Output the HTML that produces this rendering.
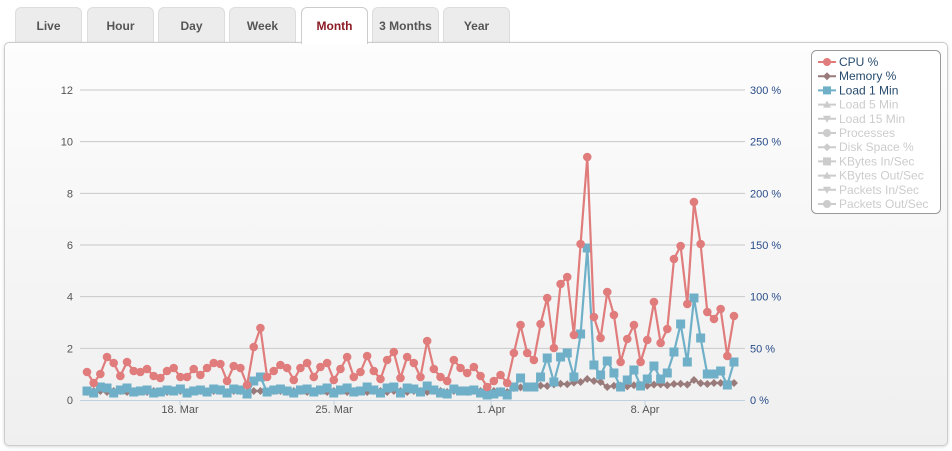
<!DOCTYPE html>
<html><head><meta charset="utf-8"><style>
html,body{margin:0;padding:0;background:#fff;width:952px;height:451px;overflow:hidden;font-family:"Liberation Sans",Arial,sans-serif}
.tab{position:absolute;top:7px;height:36px;width:67px;background:#ececec;border:1px solid #ddd;border-bottom:none;border-radius:6px 6px 0 0;font-size:12px;font-weight:bold;color:#555;text-align:center;line-height:36px;box-sizing:border-box}
.tab.on{background:#fff;color:#8b1c24;height:37px;z-index:3;border-color:#ccc}
#panel{position:absolute;left:4px;top:42px;width:944px;height:404px;border:1px solid #ccc;border-radius:5px;box-sizing:border-box;background:linear-gradient(#fdfdfd,#efefef);box-shadow:0 1px 3px rgba(0,0,0,.15)}
</style></head><body>
<div class="tab" style="left:15px">Live</div>
<div class="tab" style="left:87px">Hour</div>
<div class="tab" style="left:158px">Day</div>
<div class="tab" style="left:229px">Week</div>
<div class="tab on" style="left:301px">Month</div>
<div class="tab" style="left:372px">3 Months</div>
<div class="tab" style="left:443px">Year</div>
<div id="panel"></div>
<svg id="s" width="952" height="451" style="position:absolute;left:0;top:0;z-index:4" font-family="Liberation Sans,Arial,sans-serif"></svg>
<script>
var s=document.getElementById('s'),h='';
for(var i=0;i<=6;i++){var y=400-i*51.67;
 if(i>0)h+='<line x1="80" x2="745" y1="'+y+'" y2="'+y+'" stroke="#c8c8c8"/>';
 h+='<text x="73" y="'+(y+4)+'" font-size="11" fill="#555" text-anchor="end">'+(i*2)+'</text>';
 h+='<text x="750" y="'+(y+4)+'" font-size="11" fill="#2a4d8a">'+(i*50)+' %</text>';}
h+='<line x1="80" x2="745" y1="400.5" y2="400.5" stroke="#c0d0e0"/>';
[[180,'18. Mar'],[334,'25. Mar'],[491,'1. Apr'],[645,'8. Apr']].forEach(function(t){h+='<line x1="'+t[0]+'" x2="'+t[0]+'" y1="400" y2="405" stroke="#c0d0e0"/><text x="'+t[0]+'" y="413" font-size="11" fill="#555" text-anchor="middle">'+t[1]+'</text>';});
var cpu=[372,383,374,357,363,376,362,371,372,369,376,378,371,368,377,377,369,375,368,363,364,381,366,368,385,347,328,377,371,365,368,380,368,363,377,367,363,380,369,357,377,372,356,371,379,360,352,378,357,363,377,341,369,377,381,360,368,373,367,376,387,381,375,383,353,325,353,360,324,298,348,284,277,335,244,157,317,338,292,315,362,339,325,362,340,302,343,329,259,246,304,202,244,312,319,309,356,316];
var ld=[391,393,387,388,393,390,388,392,391,390,393,392,390,391,389,393,391,390,392,389,390,393,389,390,394,381,377,392,390,389,391,393,390,389,392,390,388,393,390,388,392,391,387,390,393,388,387,393,388,389,392,386,390,393,394,389,391,391,390,393,395,394,392,395,387,378,387,387,377,358,382,357,353,377,334,248,365,375,361,373,387,380,370,386,379,366,379,373,352,324,362,298,338,374,374,371,385,362];
var mem=[];for(i=0;i<cpu.length;i++){var b=i<64?391:(i<75?388-(i-64)*0.6:(i<78?382:386-Math.min(3,(i-78)*0.2)));mem.push(b+(i%3==0?1:0));}
mem[75]=379;mem[76]=381;mem[91]=380;
function X(i){return 87+i*6.67}
function line(a,c){var p=a.map(function(y,i){return X(i).toFixed(1)+','+y}).join(' ');return '<polyline points="'+p+'" fill="none" stroke="'+c+'" stroke-width="2.2" stroke-linejoin="round"/>';}
h+=line(mem,'#9a7b7b');mem.forEach(function(y,i){var x=X(i);h+='<path d="M'+x+' '+(y-4)+'L'+(x+4)+' '+y+'L'+x+' '+(y+4)+'L'+(x-4)+' '+y+'Z" fill="#9a7b7b"/>';});
h+=line(ld,'#6fb0c8');ld.forEach(function(y,i){h+='<rect x="'+(X(i)-4.5)+'" y="'+(y-4.5)+'" width="9" height="9" fill="#6fb0c8"/>';});
h+=line(cpu,'#e07c7c');cpu.forEach(function(y,i){h+='<circle cx="'+X(i)+'" cy="'+y+'" r="4.3" fill="#e07c7c"/>';});
h+='<rect x="811.5" y="50.5" width="129" height="163" rx="5" fill="#fff" stroke="#999"/>';
var L=[['CPU %','#e07c7c','c',1],['Memory %','#9a7b7b','d',1],['Load 1 Min','#6fb0c8','s',1],['Load 5 Min','#ccc','t',0],['Load 15 Min','#ccc','v',0],['Processes','#ccc','c',0],['Disk Space %','#ccc','d',0],['KBytes In/Sec','#ccc','s',0],['KBytes Out/Sec','#ccc','t',0],['Packets In/Sec','#ccc','v',0],['Packets Out/Sec','#ccc','c',0]];
L.forEach(function(l,k){var y=62+k*14.2,x=827;h+='<line x1="818" x2="836" y1="'+y+'" y2="'+y+'" stroke="'+l[1]+'" stroke-width="2"/>';
 if(l[2]=='c')h+='<circle cx="'+x+'" cy="'+y+'" r="4" fill="'+l[1]+'"/>';
 else if(l[2]=='d')h+='<path d="M'+x+' '+(y-4)+'L'+(x+4)+' '+y+'L'+x+' '+(y+4)+'L'+(x-4)+' '+y+'Z" fill="'+l[1]+'"/>';
 else if(l[2]=='s')h+='<rect x="'+(x-4)+'" y="'+(y-4)+'" width="8" height="8" fill="'+l[1]+'"/>';
 else if(l[2]=='t')h+='<path d="M'+x+' '+(y-4)+'L'+(x+4)+' '+(y+3)+'L'+(x-4)+' '+(y+3)+'Z" fill="'+l[1]+'"/>';
 else h+='<path d="M'+x+' '+(y+4)+'L'+(x+4)+' '+(y-3)+'L'+(x-4)+' '+(y-3)+'Z" fill="'+l[1]+'"/>';
 h+='<text x="839" y="'+(y+4)+'" font-size="12" fill="'+(l[3]?'#274b6d':'#ccc')+'">'+l[0]+'</text>';});
s.innerHTML=h;
</script>
</body></html>
